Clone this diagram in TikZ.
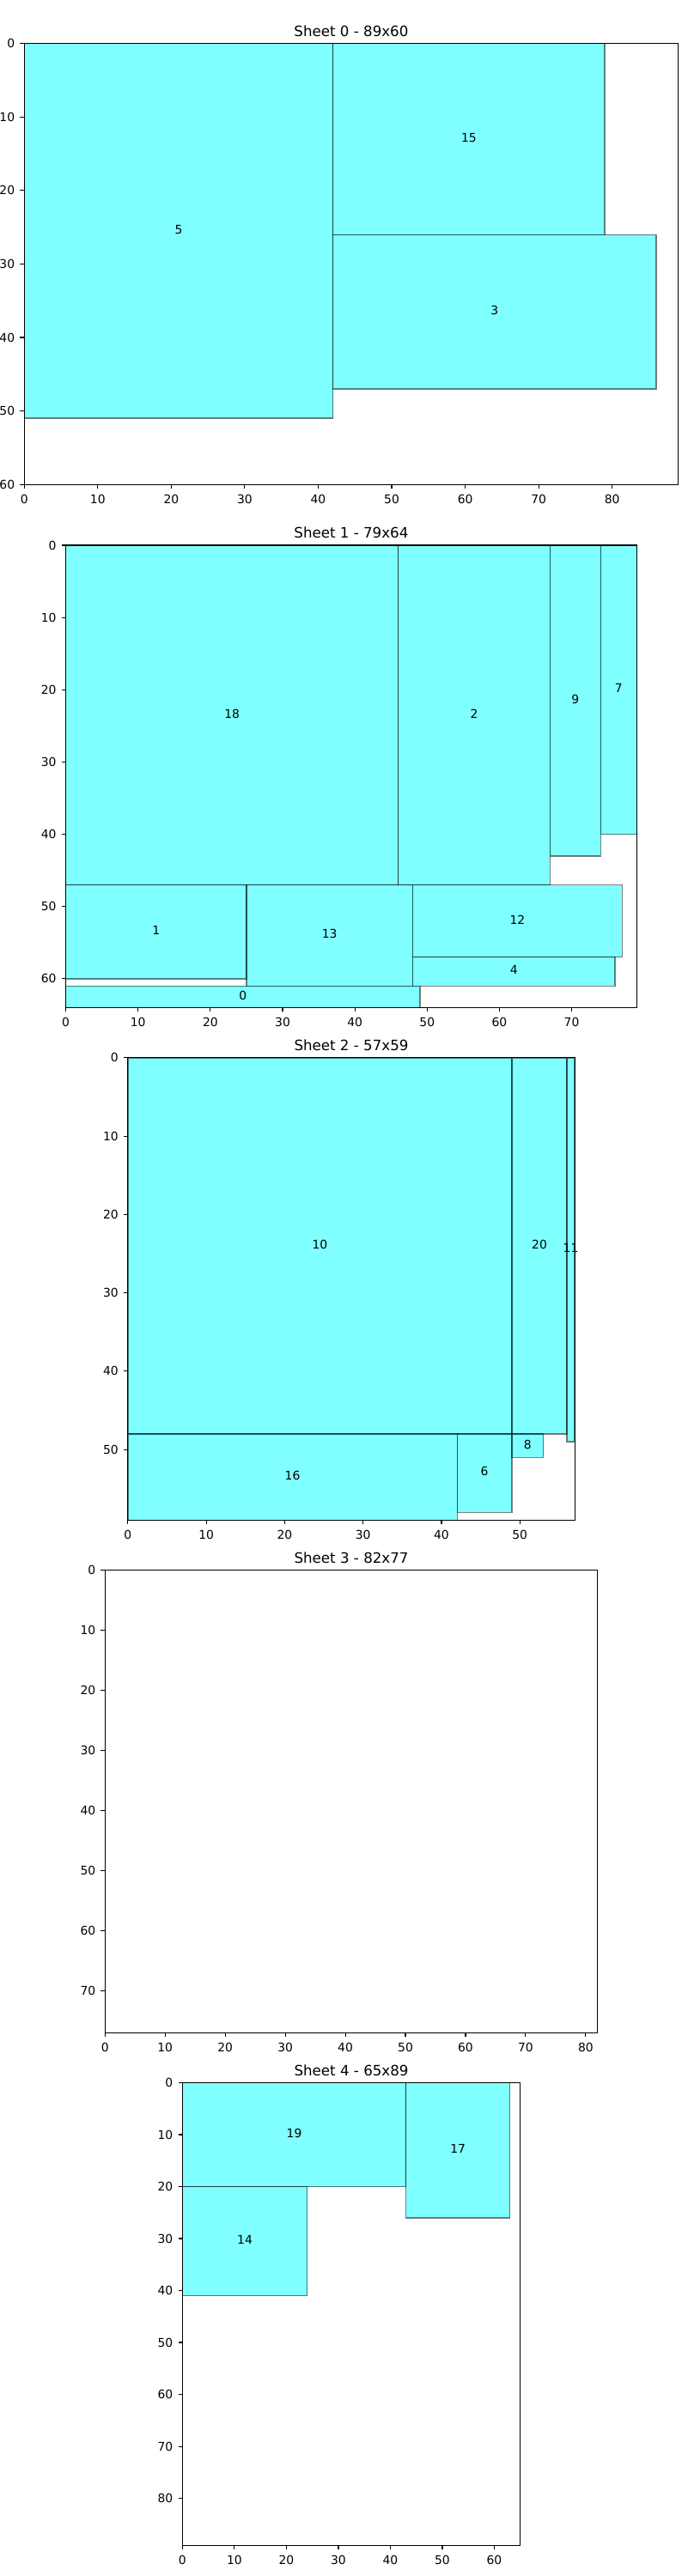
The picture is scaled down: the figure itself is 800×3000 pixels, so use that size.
\documentclass[tikz,border=0pt]{standalone}
\usepackage{fontspec}
\setmainfont{DejaVu Sans}

\definecolor{piececyan}{RGB}{0,255,255}

\tikzset{
  piece/.style={fill=piececyan, fill opacity=0.5, draw=black, draw opacity=0.5, line width=1pt},
  frame/.style={line width=0.8pt},
  tickmark/.style={line width=0.8pt},
  numlabel/.style={inner sep=0pt, yshift=1.2pt, font=\fontsize{10}{12}\selectfont},
  xlab/.style={anchor=north, inner sep=0pt, yshift=-8.2pt, font=\fontsize{10}{12}\selectfont},
  ylab/.style={anchor=east, inner sep=0pt, xshift=-7.8pt, font=\fontsize{10}{12}\selectfont},
  sheettitle/.style={anchor=base, inner sep=0pt, yshift=6pt, font=\fontsize{12}{14}\selectfont}
}

\begin{document}
\begin{tikzpicture}[x=0.72pt, y=-0.72pt]
  \fill[white] (0,0) rectangle (800,3000);
  \useasboundingbox (0,0) rectangle (800,3000);

  % sheet 0
  \begin{scope}[shift={(28.25,50.8)}, x=6.160pt, y=-6.160pt]
    \foreach \a/\b/\c/\d/\n in {0/0/42/51/5, 42/0/79/26/15, 42/26/86/47/3}{
      \draw[piece] (\a,\b) rectangle (\c,\d);
      \node[numlabel] (n\n) at ({(\a+\c)/2},{(\b+\d)/2}) {\n};
    }
    \draw[frame] (0,0) rectangle (89,60);
    \foreach \t in {0,10,...,80}{
      \draw[tickmark] (\t,60) -- ++(0pt,-3.5pt);
      \node[xlab] (xa\t) at (\t,60) {\t};
    }
    \foreach \t in {0,10,...,60}{
      \draw[tickmark] (0,\t) -- ++(-3.5pt,0pt);
      \node[ylab] (ya\t) at (0,\t) {\t};
    }
    \node[sheettitle] (t0) at (44.5,0) {Sheet 0 - 89x60};
  \end{scope}

  % sheet 1
  \begin{scope}[shift={(76.6,635.05)}, x=6.058pt, y=-6.058pt]
    \foreach \a/\b/\c/\d/\n in {0/0/46/47/18, 46/0/67/47/2, 67/0/74/43/9, 74/0/79/40/7,
        0/47/25/60/1, 25/47/48/61/13, 48/47/77/57/12, 48/57/76/61/4, 0/61/49/64/0}{
      \draw[piece] (\a,\b) rectangle (\c,\d);
      \node[numlabel] (n\n) at ({(\a+\c)/2},{(\b+\d)/2}) {\n};
    }
    \draw[frame] (0,0) rectangle (79,64);
    \foreach \t in {0,10,...,70}{
      \draw[tickmark] (\t,64) -- ++(0pt,-3.5pt);
      \node[xlab] (xb\t) at (\t,64) {\t};
    }
    \foreach \t in {0,10,...,60}{
      \draw[tickmark] (0,\t) -- ++(-3.5pt,0pt);
      \node[ylab] (yb\t) at (0,\t) {\t};
    }
    \node[sheettitle] (t1) at (39.5,0) {Sheet 1 - 79x64};
  \end{scope}

  % sheet 2
  \begin{scope}[shift={(148.9,1231.85)}, x=6.571pt, y=-6.571pt]
    \foreach \a/\b/\c/\d/\n in {0/0/49/48/10, 49/0/56/48/20, 56/0/57/49/11,
        0/48/42/59/16, 42/48/49/58/6, 49/48/53/51/8}{
      \draw[piece] (\a,\b) rectangle (\c,\d);
      \node[numlabel] (n\n) at ({(\a+\c)/2},{(\b+\d)/2}) {\n};
    }
    \draw[frame] (0,0) rectangle (57,59);
    \foreach \t in {0,10,...,50}{
      \draw[tickmark] (\t,59) -- ++(0pt,-3.5pt);
      \node[xlab] (xc\t) at (\t,59) {\t};
    }
    \foreach \t in {0,10,...,50}{
      \draw[tickmark] (0,\t) -- ++(-3.5pt,0pt);
      \node[ylab] (yc\t) at (0,\t) {\t};
    }
    \node[sheettitle] (t2) at (28.5,0) {Sheet 2 - 57x59};
  \end{scope}

  % sheet 3 (empty)
  \begin{scope}[shift={(122.3,1828.65)}, x=5.036pt, y=-5.036pt]
    \draw[frame] (0,0) rectangle (82,77);
    \foreach \t in {0,10,...,80}{
      \draw[tickmark] (\t,77) -- ++(0pt,-3.5pt);
      \node[xlab] (xd\t) at (\t,77) {\t};
    }
    \foreach \t in {0,10,...,70}{
      \draw[tickmark] (0,\t) -- ++(-3.5pt,0pt);
      \node[ylab] (yd\t) at (0,\t) {\t};
    }
    \node[sheettitle] (t3) at (41,0) {Sheet 3 - 82x77};
  \end{scope}

  % sheet 4
  \begin{scope}[shift={(212.4,2425.45)}, x=4.357pt, y=-4.357pt]
    \foreach \a/\b/\c/\d/\n in {0/0/43/20/19, 43/0/63/26/17, 0/20/24/41/14}{
      \draw[piece] (\a,\b) rectangle (\c,\d);
      \node[numlabel] (n\n) at ({(\a+\c)/2},{(\b+\d)/2}) {\n};
    }
    \draw[frame] (0,0) rectangle (65,89);
    \foreach \t in {0,10,...,60}{
      \draw[tickmark] (\t,89) -- ++(0pt,-3.5pt);
      \node[xlab] (xe\t) at (\t,89) {\t};
    }
    \foreach \t in {0,10,...,80}{
      \draw[tickmark] (0,\t) -- ++(-3.5pt,0pt);
      \node[ylab] (ye\t) at (0,\t) {\t};
    }
    \node[sheettitle] (t4) at (32.5,0) {Sheet 4 - 65x89};
  \end{scope}
\end{tikzpicture}
\end{document}
